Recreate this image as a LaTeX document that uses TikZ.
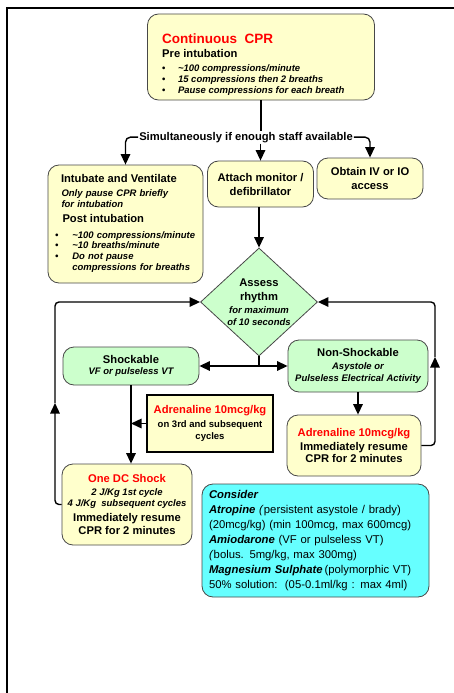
\documentclass[tikz,border=0pt]{standalone}
\usepackage{fontspec}
\setmainfont{Liberation Sans}
\usetikzlibrary{shapes.geometric,arrows.meta}
\definecolor{cprYellow}{RGB}{255,255,204}
\definecolor{cprGreen}{RGB}{204,255,204}
\definecolor{cprCyan}{RGB}{102,255,255}
\definecolor{cprRed}{RGB}{255,0,0}
\definecolor{cprEdge}{RGB}{72,72,72}
\newcommand{\cprHead}{\fontsize{11.2}{13}\selectfont\bfseries\upshape}
\newcommand{\cprNote}{\fontsize{9.5}{11}\selectfont\bfseries\itshape}
\tikzset{
  card/.style={draw=cprEdge, line width=0.8pt, rounded corners=11pt, inner sep=0pt, align=center},
  yellowcard/.style={card, fill=cprYellow},
  greencard/.style={card, fill=cprGreen},
  flow/.style={line width=1.4pt, -{Triangle[length=10.5pt,width=9.5pt]}},
  twoway/.style={line width=1.4pt, {Triangle[length=10.5pt,width=9.5pt]}-{Triangle[length=10.5pt,width=9.5pt]}},
  link/.style={line width=1.4pt},
}
\begin{document}
\begin{tikzpicture}[x=1pt,y=-1pt]
  \useasboundingbox (0,0) rectangle (454,693);
  \draw[line width=2.4pt] (7,700) -- (7,8.3) -- (460,8.3);

  % boxes
  \node[yellowcard, minimum width=227pt, minimum height=86pt] (cpr) at (261,57) {};
  \node[anchor=north west, inner sep=0pt, align=left, font=\fontsize{9.5}{11}\selectfont\bfseries] (cprtext) at (162,34)
    {{\fontsize{13.5}{15}\selectfont\color{cprRed}Continuous\ \ CPR}\\[3pt]
     {\cprHead Pre intubation}\\[2.7pt]
     \begin{tabular}[t]{@{}l@{\hspace{12.5pt}}l@{}}
       \textbullet & \itshape\textasciitilde 100 compressions/minute\\
       \textbullet & \itshape 15 compressions then 2 breaths\\
       \textbullet & \itshape Pause compressions for each breath
     \end{tabular}};
  \node[fill=white, inner sep=1pt, font=\cprHead, anchor=base] (simul) at (246,140)
    {Simultaneously if enough staff available};
  \node[yellowcard, minimum width=155pt, minimum height=118pt, text width=141pt, align=left,
        font=\fontsize{9.5}{10.7}\selectfont\bfseries\itshape] (intub) at (125.5,224)
    {\hspace*{6pt}{\cprHead Intubate and Ventilate}\\[3.6pt]
     \hspace*{6.5pt}Only pause CPR briefly\\
     \hspace*{6.5pt}for intubation\\[4.3pt]
     \hspace*{7.5pt}{\cprHead Post intubation}\\[5pt]
     \begin{tabular}[t]{@{}l@{\hspace{14pt}}l@{}}
       \textbullet & \textasciitilde 100 compressions/minute\\
       \textbullet & \textasciitilde 10 breaths/minute\\
       \textbullet & Do not pause\\
                   & compressions for breaths
     \end{tabular}};
  \node[yellowcard, minimum width=106pt, minimum height=46pt, font=\fontsize{11.2}{14}\selectfont\bfseries] (attach) at (260.5,184)
    {Attach monitor /\\ defibrillator};
  \node[yellowcard, minimum width=106pt, minimum height=41pt, font=\fontsize{11.2}{13.5}\selectfont\bfseries] (obtain) at (370,178.5)
    {Obtain IV or IO\\ access};
  \node[diamond, draw=cprEdge, line width=0.8pt, fill=cprGreen, inner sep=0pt, aspect=1.08,
        minimum width=117pt, minimum height=108pt, align=center,
        font=\fontsize{9.5}{11.4}\selectfont\bfseries\itshape] (assess) at (259,302)
    {{\cprHead Assess}\\[2.3pt] {\cprHead rhythm}\\[1.9pt] for maximum\\ of 10 seconds};
  \node[greencard, minimum width=136pt, minimum height=38pt, font=\fontsize{9.5}{11.6}\selectfont\bfseries\itshape] (shock) at (131,366)
    {{\cprHead Shockable}\\ VF or pulseless VT};
  \node[greencard, minimum width=140pt, minimum height=52pt, font=\fontsize{9.5}{11.8}\selectfont\bfseries\itshape] (nonshock) at (358,366)
    {{\cprHead Non-Shockable}\\[0.6pt] Asystole or\\ Pulseless Electrical Activity};
  \node[yellowcard, sharp corners, draw=black, line width=1.6pt, minimum width=126pt, minimum height=57pt,
        font=\fontsize{9.5}{11.7}\selectfont\bfseries] (adrmid) at (210,423.5)
    {{\cprHead\color{cprRed}Adrenaline 10mcg/kg}\\[2.6pt] on 3rd and subsequent\\ cycles};
  \node[yellowcard, minimum width=134pt, minimum height=61pt, font=\fontsize{11.2}{12}\selectfont\bfseries] (adrright) at (354,445.5)
    {{\color{cprRed}Adrenaline 10mcg/kg}\\[2.7pt] Immediately resume\\ CPR for 2 minutes};
  \node[yellowcard, minimum width=130pt, minimum height=81pt, font=\fontsize{11.2}{11}\selectfont\bfseries] (dcshock) at (127,504.5)
    {{\color{cprRed}One DC Shock}\\[2.4pt]
     {\cprNote 2 J/Kg 1st cycle}\\
     {\cprNote 4 J/Kg\ \ subsequent cycles}\\[4pt]
     Immediately resume\\[2.3pt]
     CPR for 2 minutes};
  \node[card, fill=cprCyan, minimum width=227pt, minimum height=113pt, text width=213pt, align=left,
        font=\fontsize{11.3}{15}\selectfont] (consider) at (315.5,540.5)
    {{\bfseries\itshape Consider}\\
     {\bfseries\itshape Atropine} \textit{(}persistent asystole / brady)\\
     (20mcg/kg) (min 100mcg, max 600mcg)\\
     {\bfseries\itshape Amiodarone} (VF or pulseless VT)\\
     \textit{(}bolus. 5mg/kg, max 300mg)\\
     {\bfseries\itshape Magnesium Sulphate}\,(polymorphic VT)\\
     50\% solution:\ \ (05-0.1ml/kg : max 4ml)};

  % connectors
  \draw[link] (cpr.south) -- (cpr.south |- simul.north);
  \draw[flow] (attach.north |- simul.south) -- (attach.north);
  \draw[flow, rounded corners=5pt] (simul.west) -| (intub.north);
  \draw[flow, rounded corners=5pt] (simul.east) -| (obtain.north);
  \draw[flow] (attach.south -| assess.north) -- (assess.north);
  \coordinate (split) at (assess.south |- shock.east);
  \draw[link] (assess.south) -- (split);
  \draw[twoway] (shock.east) -- (nonshock.west);
  \draw[flow] (nonshock.south) -- (nonshock.south |- adrright.north);
  \draw[flow] (shock.south) -- (shock.south |- dcshock.north);
  \draw[flow] (adrmid.west) -- (adrmid.west -| shock.south);
  \coordinate (leftmid) at (55,403);
  \draw[flow, rounded corners=4pt] (dcshock.west) -| (leftmid);
  \draw[flow, rounded corners=4pt] (leftmid) |- (assess.west);
  \coordinate (rightmid) at (435,357);
  \draw[flow, rounded corners=4pt] (adrright.east) -| (rightmid);
  \draw[flow, rounded corners=4pt] (rightmid) |- (assess.east);
\end{tikzpicture}
\end{document}
